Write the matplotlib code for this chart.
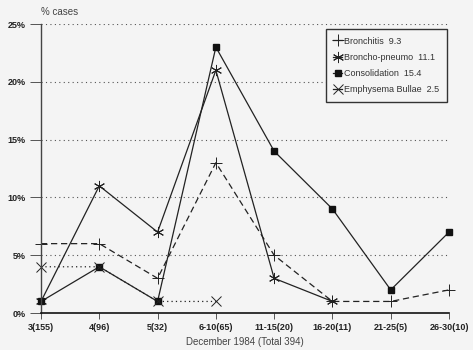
import numpy as np
import matplotlib
matplotlib.use('Agg')
import matplotlib.pyplot as plt

# data (% cases per December 1984 interval)
categories = ["3(155)", "4(96)", "5(32)", "6-10(65)", "11-15(20)",
              "16-20(11)", "21-25(5)", "26-30(10)"]
bronchitis = [6, 6, 3, 13, 5, 1, 1, 2]
broncho_pneumo = [1, 11, 7, 21, 3, 1, np.nan, np.nan]
consolidation = [1, 4, 1, 23, 14, 9, 2, 7]
emphysema = [4, 4, 1, 1, np.nan, np.nan, np.nan, np.nan]
yticks = [0, 5, 10, 15, 20, 25]

plt.rcParams['font.family'] = ['Liberation Sans', 'DejaVu Sans']

fig = plt.figure(figsize=(4.73, 3.5), dpi=100)
fig.patch.set_facecolor('#f4f4f4')
ax = fig.add_axes([0.0867, 0.1057, 0.8626, 0.8257])
ax.set_facecolor('#f4f4f4')

x = np.arange(len(categories))

for y in yticks[1:]:
    ax.axhline(y, color='#555555', lw=0.8, ls=(0, (1, 3)), zorder=0)

ax.plot(x, bronchitis, color='#222222', lw=0.9, ls=(0, (5, 3)),
        marker='+', ms=8, mew=0.7, label='Bronchitis  9.3', clip_on=False)
ax.plot(x, broncho_pneumo, color='#222222', lw=0.9, ls='-',
        marker=(6, 2, 0), ms=8, mew=0.7, label='Broncho-pneumo  11.1', clip_on=False)
ax.plot(x, consolidation, color='#222222', lw=0.9, ls='-',
        marker='s', ms=5, mfc='#111111', mec='#111111', label='Consolidation  15.4', clip_on=False)
ax.plot(x, emphysema, color='#222222', lw=0.9, ls=(0, (1, 2.5)),
        marker='x', ms=7, mew=0.7, label='Emphysema Bullae  2.5', clip_on=False)

ax.set_xlim(0, 7)
ax.set_ylim(0, 25)
ax.set_xticks(x)
ax.set_xticklabels(categories, fontsize=6.5, fontweight='bold', color='#222222')
ax.set_yticks(yticks)
ax.set_yticklabels([f"{v}%" for v in yticks], fontsize=6.5, fontweight='bold', color='#222222')
ax.tick_params(axis='x', length=4, width=0.7, color='#555555', pad=3)
ax.tick_params(axis='y', length=8, width=0.7, color='#555555', pad=3)

ax.spines['top'].set_visible(False)
ax.spines['right'].set_visible(False)
ax.spines['left'].set_color('#444444')
ax.spines['left'].set_linewidth(1.0)
ax.spines['bottom'].set_color('#111111')
ax.spines['bottom'].set_linewidth(1.2)

ax.set_xlabel('December 1984 (Total 394)', fontsize=7, color='#444444', labelpad=4)
ax.text(0.0, 1.025, '% cases', transform=ax.transAxes, fontsize=7, color='#444444',
        ha='left', va='bottom')

leg = ax.legend(loc='upper right', bbox_to_anchor=(1.005, 0.997), fontsize=6.5,
                frameon=True, fancybox=False, edgecolor='#333333', facecolor='#f4f4f4',
                framealpha=1, handlelength=1.0, handletextpad=0.2, borderpad=0.8,
                labelspacing=0.8)
leg.get_frame().set_linewidth(1.0)
for line in leg.get_lines():
    line.set_linestyle('-')
for t in leg.get_texts():
    t.set_color('#333333')

fig.savefig('out.png', dpi=100, facecolor=fig.get_facecolor())
